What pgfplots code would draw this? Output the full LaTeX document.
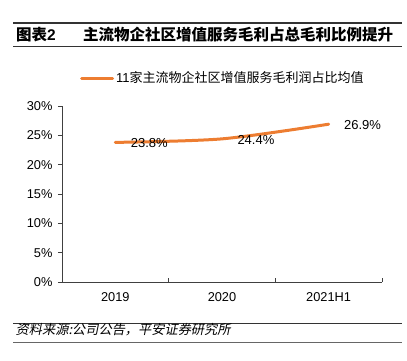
\documentclass[border=0pt]{standalone}
\usepackage{pgfplots}
\pgfplotsset{compat=1.18}
\usepackage{fontspec}
\setmainfont{Liberation Sans}
\newfontfamily\cjk{Noto Sans CJK SC}
\newfontfamily\cjkit{Noto Sans CJK SC}[FakeSlant=0.2]
\definecolor{lineor}{HTML}{ED7D31}
\definecolor{axgray}{HTML}{404040}
\begin{document}
\begin{tikzpicture}[x=1pt,y=1pt]
\path[use as bounding box] (0,0) rectangle (407,360);
% header
\draw[line width=1.2pt, black!80] (13,337) -- (402,337);
\node[anchor=west, inner sep=0pt] at (16,325) {\fontsize{15.5}{16}\selectfont\cjk\bfseries 图表{\rmfamily\bfseries 2}};
\node[anchor=west, inner sep=0pt] at (83,325) {\fontsize{15.5}{16}\selectfont\cjk\bfseries 主流物企社区增值服务毛利占总毛利比例提升};
\draw[line width=0.8pt, black!80] (13,313.5) -- (402,313.5);
% footer
\draw[line width=0.8pt, black!80] (13,36.7) -- (402,36.7);
\node[anchor=west, inner sep=0pt] at (15.5,30) {\fontsize{13.2}{14}\selectfont\cjkit 资料来源:公司公告，平安证券研究所};
\draw[line width=1.5pt, black!60] (13,17.3) -- (402,17.3);
\begin{axis}[
  at={(62pt,78pt)}, anchor=south west,
  scale only axis, width=320pt, height=176pt,
  xmin=-0.5, xmax=2.5, ymin=0, ymax=30,
  axis x line=bottom, axis y line=left,
  axis line style={-, axgray, line width=0.8pt},
  xtick={0,1,2}, xticklabels={2019,2020,2021H1},
  major x tick style={draw=none},
  minor xtick={0.5,1.5,2.5},
  minor x tick style={axgray, line width=0.8pt},
  xtick align=inside,
  minor tick length=4pt,
  ytick={0,5,10,15,20,25,30},
  ytick align=outside,
  major y tick style={axgray, line width=0.8pt},
  major tick length=4pt,
  yticklabel={\pgfmathprintnumber{\tick}\%},
  /pgf/number format/assume math mode=true,
  tick label style={font=\fontsize{12.8}{13}\selectfont, text=black},
  xticklabel style={yshift=-7pt},
  yticklabel style={xshift=-2pt},
  legend style={draw=none, fill=none, at={(0.05625,1.159)}, anchor=west, inner sep=0pt,
    font=\fontsize{13}{14}\selectfont, /tikz/every even column/.append style={column sep=2pt}},
  legend image code/.code={\draw[#1, line width=3pt, line cap=round] (0pt,0pt) -- (31pt,0pt);},
  clip=false,
]
\addplot[lineor, line width=3pt, smooth, line cap=round,
  nodes near coords={\pgfmathprintnumber[fixed,precision=1,fixed zerofill]{\pgfplotspointmeta}\%},
  point meta=y,
  every node near coord/.style={anchor=west, inner sep=0pt, xshift=14pt, yshift=-1pt, text=black, font=\fontsize{13}{14}\selectfont}
] coordinates {(0,23.8) (1,24.4) (2,26.9)};
\addlegendentry{11{\cjk 家主流物企社区增值服务毛利润占比均值}}
\end{axis}
\end{tikzpicture}
\end{document}
